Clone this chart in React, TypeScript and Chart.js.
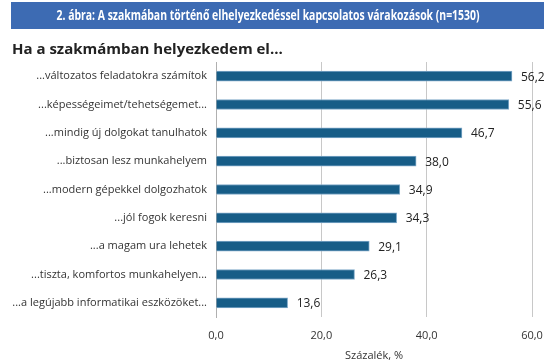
import React, { useEffect, useRef } from "react";
import { Chart, registerables } from "chart.js";

Chart.register(...registerables);

const TITLE = "2. ábra: A szakmában történő elhelyezkedéssel kapcsolatos várakozások (n=1530)";
const SUBTITLE = "Ha a szakmámban helyezkedem el...";
const AXIS_TITLE = "Százalék, %";

const categories = [
  "...változatos feladatokra számítok",
  "...képességeimet/tehetségemet...",
  "...mindig új dolgokat tanulhatok",
  "...biztosan lesz munkahelyem",
  "...modern gépekkel dolgozhatok",
  "...jól fogok keresni",
  "...a magam ura lehetek",
  "...tiszta, komfortos munkahelyen...",
  "...a legújabb informatikai eszközöket...",
];

const values = [56.2, 55.6, 46.7, 38.0, 34.9, 34.3, 29.1, 26.3, 13.6];

const xTicks = [0, 20, 40, 60];

const fmt = (v: number) => v.toFixed(1).replace(".", ",");

const headerPlugin = {
  id: "header",
  beforeDraw(chart: any) {
    const ctx = chart.ctx;
    ctx.save();
    ctx.fillStyle = "#ffffff";
    ctx.fillRect(0, 0, chart.width, chart.height);
    ctx.fillStyle = "#3d6bb3";
    ctx.fillRect(11, 2, chart.width - 11, 27);
    ctx.fillStyle = "#ffffff";
    ctx.font = "bold 14px 'Open Sans', sans-serif";
    ctx.textAlign = "center";
    ctx.textBaseline = "middle";
    ctx.fillText(TITLE, 268, 16, 423);
    ctx.fillStyle = "#222222";
    ctx.font = "bold 15px 'Open Sans', sans-serif";
    ctx.textAlign = "left";
    ctx.fillText(SUBTITLE, 12, 50);
    ctx.restore();
  },
};

const valueLabelPlugin = {
  id: "valueLabels",
  afterDatasetsDraw(chart: any) {
    const ctx = chart.ctx;
    const meta = chart.getDatasetMeta(0);
    ctx.save();
    ctx.fillStyle = "#222222";
    ctx.font = "12px 'Open Sans', sans-serif";
    ctx.textAlign = "left";
    ctx.textBaseline = "middle";
    meta.data.forEach((bar: any, i: number) => {
      ctx.fillText(fmt(values[i]), bar.x + 9, bar.y + 1);
    });
    ctx.restore();
  },
};

export default function App() {
  const ref = useRef<HTMLCanvasElement>(null);
  useEffect(() => {
    document.body.style.margin = "0";
    const chart = new Chart(ref.current as HTMLCanvasElement, {
      type: "bar",
      data: {
        labels: categories,
        datasets: [
          {
            data: values,
            backgroundColor: "#175d87",
            borderColor: "#7fa9c8",
            borderWidth: 1,
            barThickness: 10,
          },
        ],
      },
      options: {
        indexAxis: "y",
        animation: false,
        responsive: false,
        layout: { padding: { top: 62, right: 12, left: 0, bottom: 0 } },
        plugins: {
          legend: { display: false },
          tooltip: { enabled: false },
        },
        scales: {
          x: {
            min: 0,
            max: 60,
            afterFit(scale: any) {
              scale.height = 47;
              scale.paddingLeft = 0;
              scale.paddingRight = 0;
            },
            afterBuildTicks(scale: any) {
              scale.ticks = xTicks.map((v) => ({ value: v }));
            },
            grid: { color: "#c8c8c8", drawTicks: false, lineWidth: 1 },
            border: { display: false },
            ticks: {
              padding: 12,
              color: "#333333",
              font: { family: "'Open Sans', sans-serif", size: 11 },
              callback: (v: any) => fmt(Number(v)),
            },
            title: {
              display: true,
              text: AXIS_TITLE,
              color: "#333333",
              font: { family: "'Open Sans', sans-serif", size: 11 },
              padding: { top: 0, bottom: 2 },
            },
          },
          y: {
            afterFit(scale: any) {
              scale.width = 216;
              scale.paddingTop = 0;
              scale.paddingBottom = 0;
            },
            grid: { display: false, drawTicks: false },
            border: { display: true, color: "#b0b0b0", width: 1 },
            ticks: {
              padding: 9,
              color: "#333333",
              font: { family: "'Open Sans', sans-serif", size: 11 },
            },
          },
        },
      },
      plugins: [headerPlugin, valueLabelPlugin],
    });
    return () => chart.destroy();
  }, []);
  return <canvas ref={ref} width={544} height={364} style={{ display: "block" }} />;
}
